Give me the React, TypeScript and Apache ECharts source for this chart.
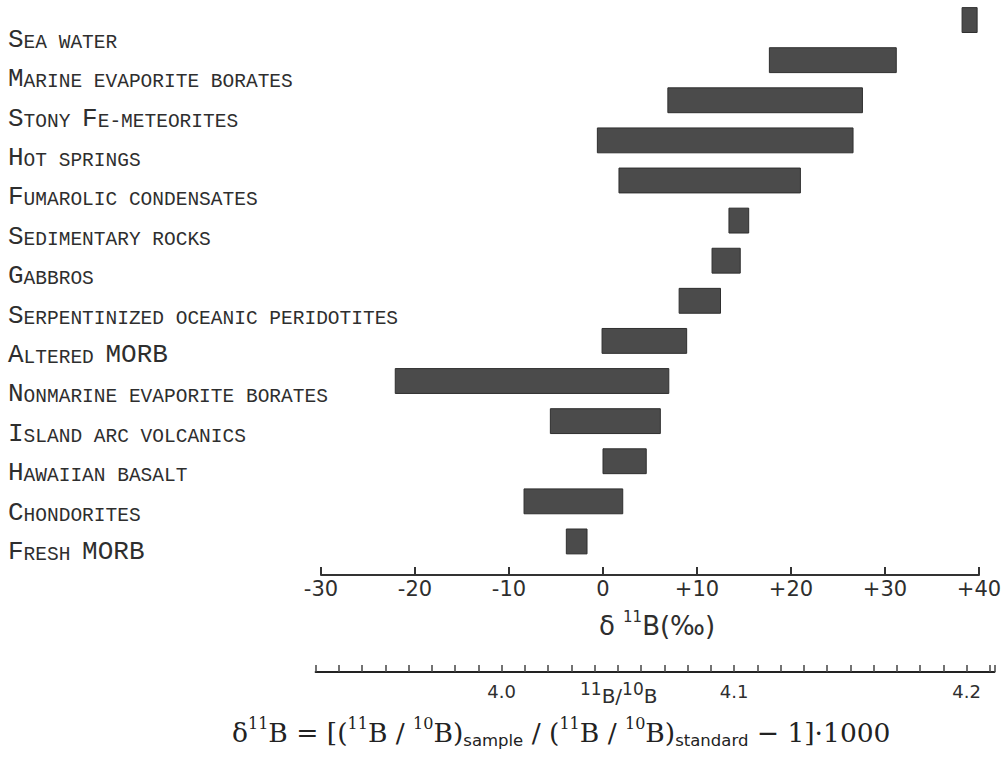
import React, { useEffect, useRef } from "react";
import * as echarts from "echarts";

const categories = [
  "Sea water",
  "Marine evaporite borates",
  "Stony Fe-meteorites",
  "Hot springs",
  "Fumarolic condensates",
  "Sedimentary rocks",
  "Gabbros",
  "Serpentinized oceanic peridotites",
  "Altered MORB",
  "Nonmarine evaporite borates",
  "Island arc volcanics",
  "Hawaiian basalt",
  "Chondorites",
  "Fresh MORB",
];
const lowValues = [38.2, 17.7, 6.9, -0.6, 1.7, 13.4, 11.6, 8.1, -0.1, -22.1, -5.6, 0.0, -8.4, -3.9];
const highValues = [39.8, 31.2, 27.6, 26.6, 21.0, 15.5, 14.6, 12.5, 8.9, 7.0, 6.1, 4.6, 2.1, -1.7];

const deltaMin = -30;
const deltaMax = 40;
const deltaInterval = 10;

const ratioStandard = 4.04362;
const ratioMin = 3.92;
const ratioMax = 4.212;
const ratioInterval = 0.01;

const SANS = '"DejaVu Sans", sans-serif';
const MONO = '"Liberation Mono", "DejaVu Sans Mono", monospace';
const SERIF = '"DejaVu Serif", "Liberation Serif", serif';
const INK = "#2e2e2e";

// layout
const X0 = 321;
const X1 = 979;
const W = 1008;
const H = 759;
const pxPer = (X1 - X0) / (deltaMax - deltaMin);
const deltaToPx = (d: number) => X0 + (d - deltaMin) * pxPer;
const ratioToDelta = (r: number) => (r / ratioStandard - 1) * 1000;

function smallCaps(name: string): string {
  let out = "";
  let cur = "";
  let buf = "";
  for (const ch of name) {
    const t = /[A-Z]/.test(ch) ? "cap" : "sc";
    if (t !== cur && buf) {
      out += `{${cur}|${buf}}`;
      buf = "";
    }
    cur = t;
    buf += t === "sc" ? ch.toUpperCase() : ch;
  }
  if (buf) out += `{${cur}|${buf}}`;
  return out;
}

export default function App() {
  const ref = useRef<HTMLDivElement>(null);
  useEffect(() => {
    if (!ref.current) return;
    const chart = echarts.init(ref.current, null, { renderer: "svg" });
    const rLeft = deltaToPx(ratioToDelta(ratioMin));
    const rRight = deltaToPx(ratioToDelta(ratioMax));
    const data = categories.map((c, i) => [i, lowValues[i], highValues[i]]);

    chart.setOption({
      animation: false,
      backgroundColor: "#ffffff",
      grid: [
        { left: X0, right: W - X1, top: 0, bottom: 197.5 },
        { left: rLeft, width: rRight - rLeft, top: 600, bottom: 87 },
        { left: X0, right: W - X1, top: 19, bottom: 188.3 },
      ],
      xAxis: [
        {
          gridIndex: 0,
          type: "value",
          min: deltaMin,
          max: deltaMax,
          interval: deltaInterval,
          offset: 13.5,
          axisLine: { show: true, lineStyle: { color: "#333", width: 2 } },
          axisTick: { show: true, inside: true, length: 8, lineStyle: { color: "#333", width: 2 } },
          axisLabel: {
            formatter: (v: number) => (v > 0 ? "+" + v : String(v)),
            fontSize: 21,
            color: INK,
            fontFamily: SANS,
            margin: 3,
          },
          splitLine: { show: false },
          name: "{a|δ }{s|11}{a|B(‰)}",
          nameLocation: "middle",
          nameGap: 34,
          nameTextStyle: {
            padding: [0, 0, 0, 14],
            rich: {
              a: { fontSize: 26, fontFamily: SANS, color: INK, lineHeight: 30, verticalAlign: "bottom" },
              s: { fontSize: 15, fontFamily: SANS, color: INK, lineHeight: 22, verticalAlign: "top" },
            },
          },
        },
        {
          gridIndex: 1,
          type: "value",
          min: ratioMin,
          max: ratioMax,
          interval: ratioInterval,
          axisLine: { show: true, lineStyle: { color: "#222", width: 2 } },
          axisTick: { show: true, inside: true, length: 7, lineStyle: { color: "#444", width: 1.5 } },
          axisLabel: {
            formatter: (v: number) => {
              const t = Math.round(v * 100);
              return t % 10 === 0 ? (t / 100).toFixed(1) : "";
            },
            fontSize: 18,
            color: INK,
            fontFamily: SANS,
            margin: 10,
          },
          splitLine: { show: false },
        },
        { gridIndex: 2, type: "value", show: false, min: 0, max: 1 },
      ],
      yAxis: [
        { gridIndex: 0, type: "category", data: categories, inverse: true, show: false },
        { gridIndex: 1, type: "value", show: false },
        {
          gridIndex: 2,
          type: "category",
          data: categories,
          inverse: true,
          axisLine: { show: false },
          axisTick: { show: false },
          splitLine: { show: false },
          axisLabel: {
            align: "left",
            margin: X0 - 8,
            formatter: (v: string) => smallCaps(v),
            rich: {
              cap: { fontSize: 26, fontFamily: MONO, color: INK, lineHeight: 28, verticalAlign: "bottom" },
              sc: { fontSize: 19.5, fontFamily: MONO, color: INK, lineHeight: 22, verticalAlign: "bottom" },
            },
          },
        },
      ],
      series: [
        {
          type: "custom",
          xAxisIndex: 0,
          yAxisIndex: 0,
          data,
          encode: { x: [1, 2], y: 0 },
          renderItem: (params: any, api: any) => {
            const y = api.value(0);
            const lo = api.coord([api.value(1), y]);
            const hi = api.coord([api.value(2), y]);
            const h = api.size([0, 1])[1] * 0.62;
            return {
              type: "rect",
              shape: { x: lo[0], y: lo[1] - h / 2, width: hi[0] - lo[0], height: h },
              style: { fill: "#4b4b4b", stroke: "#2f2f2f", lineWidth: 1 },
            };
          },
        },
      ],
      graphic: [
        {
          type: "text",
          left: 580,
          top: 680,
          style: {
            text: "{s|11}{b|B/}{s|10}{b|B}",
            rich: {
              s: { fontSize: 17, fontFamily: SANS, fill: INK, lineHeight: 20, verticalAlign: "top" },
              b: { fontSize: 20, fontFamily: SANS, fill: INK, lineHeight: 26, verticalAlign: "bottom" },
            },
          },
        },
        {
          type: "text",
          left: 232,
          top: 715,
          style: {
            text:
              "{g|δ}{p|11}{g|B = [(}{p|11}{g|B / }{p|10}{g|B)}{b|sample}{g| / (}{p|11}{g|B / }{p|10}{g|B)}{b|standard}{g| − 1]·1000}",
            rich: {
              g: { fontSize: 26.5, fontFamily: SERIF, fill: "#222", lineHeight: 34, verticalAlign: "middle" },
              p: { fontSize: 16, fontFamily: SERIF, fill: "#222", lineHeight: 17, verticalAlign: "top" },
              b: { fontSize: 16.5, fontFamily: SANS, fill: "#222", lineHeight: 12, verticalAlign: "bottom" },
            },
          },
        },
      ],
    });
    return () => chart.dispose();
  }, []);
  return (
    <div
      ref={ref}
      style={{ position: "fixed", left: 0, top: 0, width: W, height: H, background: "#fff" }}
    />
  );
}
